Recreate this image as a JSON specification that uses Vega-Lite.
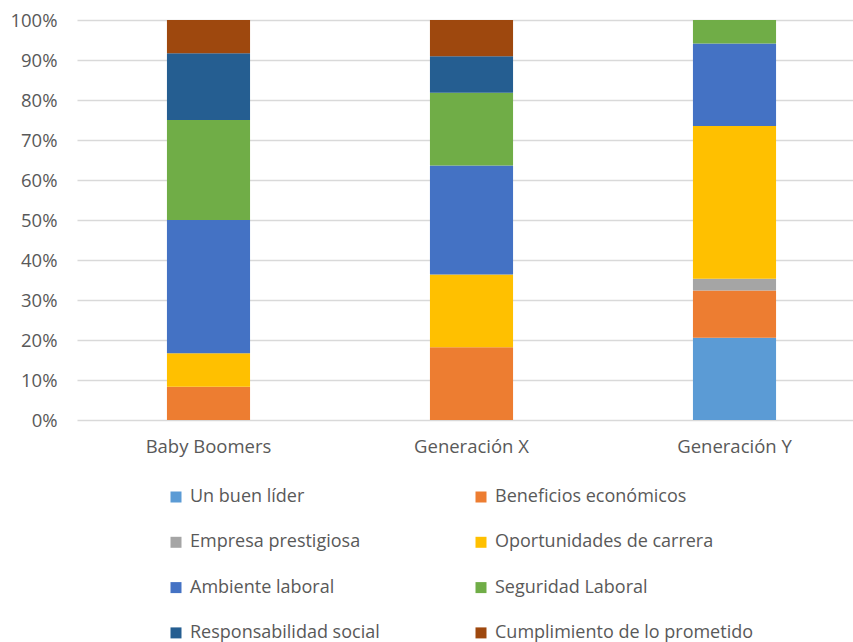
{
  "$schema": "https://vega.github.io/schema/vega-lite/v6.json",
  "autosize": "none",
  "padding": {"left": 77, "top": 20, "right": 0, "bottom": 222},
  "width": 789,
  "height": 400,
  "background": "white",
  "config": {
    "view": {"stroke": null},
    "font": "Open Sans"
  },
  "data": {
    "values": [
      {"grupo": "Baby Boomers", "factor": "Beneficios económicos", "orden": 2, "n": 1},
      {"grupo": "Baby Boomers", "factor": "Oportunidades de carrera", "orden": 4, "n": 1},
      {"grupo": "Baby Boomers", "factor": "Ambiente laboral", "orden": 5, "n": 4},
      {"grupo": "Baby Boomers", "factor": "Seguridad Laboral", "orden": 6, "n": 3},
      {"grupo": "Baby Boomers", "factor": "Responsabilidad social", "orden": 7, "n": 2},
      {"grupo": "Baby Boomers", "factor": "Cumplimiento de lo prometido", "orden": 8, "n": 1},
      {"grupo": "Generación X", "factor": "Beneficios económicos", "orden": 2, "n": 2},
      {"grupo": "Generación X", "factor": "Oportunidades de carrera", "orden": 4, "n": 2},
      {"grupo": "Generación X", "factor": "Ambiente laboral", "orden": 5, "n": 3},
      {"grupo": "Generación X", "factor": "Seguridad Laboral", "orden": 6, "n": 2},
      {"grupo": "Generación X", "factor": "Responsabilidad social", "orden": 7, "n": 1},
      {"grupo": "Generación X", "factor": "Cumplimiento de lo prometido", "orden": 8, "n": 1},
      {"grupo": "Generación Y", "factor": "Un buen líder", "orden": 1, "n": 7},
      {"grupo": "Generación Y", "factor": "Beneficios económicos", "orden": 2, "n": 4},
      {"grupo": "Generación Y", "factor": "Empresa prestigiosa", "orden": 3, "n": 1},
      {"grupo": "Generación Y", "factor": "Oportunidades de carrera", "orden": 4, "n": 13},
      {"grupo": "Generación Y", "factor": "Ambiente laboral", "orden": 5, "n": 7},
      {"grupo": "Generación Y", "factor": "Seguridad Laboral", "orden": 6, "n": 2}
    ]
  },
  "mark": {"type": "bar"},
  "encoding": {
    "x": {
      "field": "grupo",
      "type": "nominal",
      "sort": ["Baby Boomers", "Generación X", "Generación Y"],
      "scale": {"paddingInner": 0.684, "paddingOuter": 0.342},
      "axis": {
        "title": null,
        "labelAngle": 0,
        "labelFontSize": 18.5,
        "labelColor": "#595959",
        "labelPadding": 17,
        "domain": false,
        "ticks": false
      }
    },
    "y": {
      "field": "n",
      "type": "quantitative",
      "stack": "normalize",
      "scale": {"domain": [0, 1]},
      "axis": {
        "title": null,
        "format": ".0%",
        "values": [0, 0.1, 0.2, 0.3, 0.4, 0.5, 0.6, 0.7, 0.8, 0.9, 1],
        "labelFontSize": 18.5,
        "labelColor": "#595959",
        "labelPadding": 20,
        "domain": false,
        "ticks": false,
        "grid": true,
        "gridColor": "#d9d9d9",
        "gridWidth": 1.3
      }
    },
    "color": {
      "field": "factor",
      "type": "nominal",
      "scale": {
        "domain": ["Un buen líder", "Beneficios económicos", "Empresa prestigiosa", "Oportunidades de carrera", "Ambiente laboral", "Seguridad Laboral", "Responsabilidad social", "Cumplimiento de lo prometido"],
        "range": ["#5B9BD5", "#ED7D31", "#A5A5A5", "#FFC000", "#4472C4", "#70AD47", "#255E91", "#9E480E"]
      },
      "legend": {
        "title": null,
        "orient": "none",
        "direction": "horizontal",
        "legendX": 90,
        "legendY": 468,
        "columns": 2,
        "columnPadding": 92,
        "rowPadding": 27.3,
        "symbolType": "square",
        "symbolSize": 121,
        "symbolStrokeWidth": 0,
        "labelFontSize": 18,
        "labelColor": "#595959",
        "labelOffset": 5,
        "labelLimit": 400
      }
    },
    "order": {"field": "orden", "type": "quantitative"}
  }
}
